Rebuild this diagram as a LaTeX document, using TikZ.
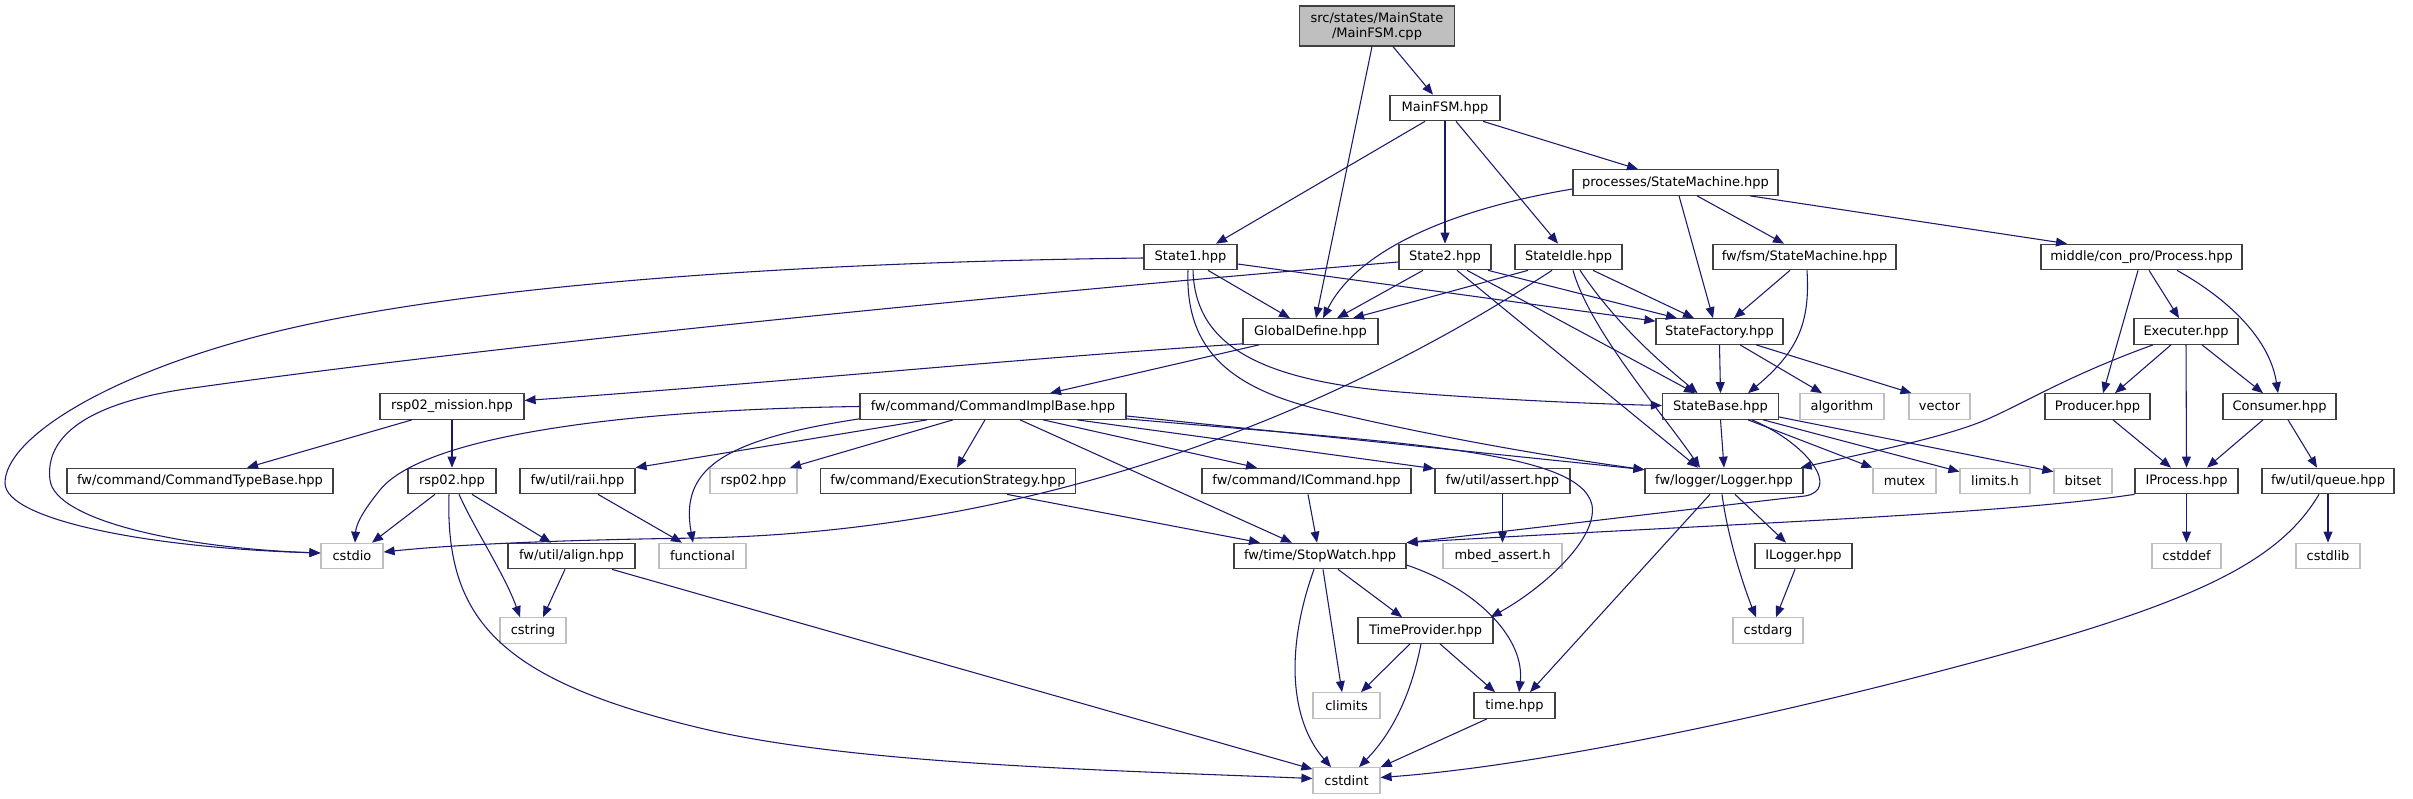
\documentclass[tikz,border=0pt]{standalone}
\usepackage{fontspec}
\setmainfont{DejaVu Sans}
\usetikzlibrary{arrows.meta,calc}
\newdimen\upx \upx=0.75pt
\definecolor{edgec}{HTML}{191970}
\definecolor{boxc}{HTML}{404040}
\definecolor{grayc}{HTML}{BFBFBF}
\begin{document}
\begin{tikzpicture}[x=0.75pt,y=-0.75pt,
  font=\fontsize{9.75pt}{11.25pt}\selectfont,
  hb/.style={draw=boxc,fill=white,line width=0.9pt,minimum height=25.5\upx,inner sep=0pt,text=black},
  gb/.style={hb,draw=grayc},
  dep/.style={draw=edgec,line width=0.8pt,-{Triangle[length=8.25pt,width=6.6pt]}}]
\fill[white] (0,0) rectangle (2413,799);
\useasboundingbox (0,0) rectangle (2413,799);
% nodes
\node[hb,minimum width=155\upx,minimum height=40\upx,fill=grayc,align=center] (root) at (1377,26) {src/states/MainState\\/MainFSM.cpp};
\node[hb,minimum width=110\upx] (mainfsm) at (1445,108) {MainFSM.hpp};
\node[hb,minimum width=205\upx] (procsm) at (1675.5,182.5) {processes/StateMachine.hpp};
\node[hb,minimum width=93\upx] (state1) at (1190.5,257) {State1.hpp};
\node[hb,minimum width=92\upx] (state2) at (1445,257) {State2.hpp};
\node[hb,minimum width=107\upx] (stateidle) at (1568.5,257) {StateIdle.hpp};
\node[hb,minimum width=183\upx] (fsmsm) at (1804.5,257) {fw/fsm/StateMachine.hpp};
\node[hb,minimum width=201\upx] (process) at (2141.5,257) {middle/con\_pro/Process.hpp};
\node[hb,minimum width=135\upx] (globaldef) at (1310.5,331.5) {GlobalDefine.hpp};
\node[hb,minimum width=127\upx] (statefac) at (1719.5,331.5) {StateFactory.hpp};
\node[hb,minimum width=104\upx] (executer) at (2186,331.5) {Executer.hpp};
\node[hb,minimum width=144\upx] (rsp02m) at (452,406.5) {rsp02\_mission.hpp};
\node[hb,minimum width=266\upx] (cmdimpl) at (993,406.5) {fw/command/CommandImplBase.hpp};
\node[hb,minimum width=116\upx] (statebase) at (1720.5,406.5) {StateBase.hpp};
\node[gb,minimum width=84\upx] (algorithm) at (1842,406.5) {algorithm};
\node[gb,minimum width=61\upx] (vector) at (1939.5,406.5) {vector};
\node[hb,minimum width=105\upx] (producer) at (2097.5,406.5) {Producer.hpp};
\node[hb,minimum width=113\upx] (consumer) at (2279.5,406.5) {Consumer.hpp};
\node[hb,minimum width=266\upx] (cmdtype) at (200,481) {fw/command/CommandTypeBase.hpp};
\node[hb,minimum width=88\upx] (rsp02) at (452,481) {rsp02.hpp};
\node[hb,minimum width=115\upx] (raii) at (577.5,481) {fw/util/raii.hpp};
\node[gb,minimum width=87\upx] (rsp02g) at (753.5,481) {rsp02.hpp};
\node[hb,minimum width=255\upx] (execstrat) at (948,481) {fw/command/ExecutionStrategy.hpp};
\node[hb,minimum width=209\upx] (icommand) at (1306.5,481) {fw/command/ICommand.hpp};
\node[hb,minimum width=135\upx] (assert) at (1502.5,481) {fw/util/assert.hpp};
\node[hb,minimum width=158\upx] (logger) at (1724,481) {fw/logger/Logger.hpp};
\node[gb,minimum width=63\upx] (mutex) at (1904.5,481) {mutex};
\node[gb,minimum width=70\upx] (limits) at (1995,481) {limits.h};
\node[gb,minimum width=58\upx] (bitset) at (2083,481) {bitset};
\node[hb,minimum width=103\upx] (iprocess) at (2186.5,481) {IProcess.hpp};
\node[hb,minimum width=132\upx] (queue) at (2328,481) {fw/util/queue.hpp};
\node[gb,minimum width=62\upx] (cstdio) at (352,556) {cstdio};
\node[hb,minimum width=127\upx] (align) at (571.5,556) {fw/util/align.hpp};
\node[gb,minimum width=87\upx] (functional) at (702.5,556) {functional};
\node[hb,minimum width=172\upx] (stopwatch) at (1320,556) {fw/time/StopWatch.hpp};
\node[gb,minimum width=119\upx] (mbed) at (1502.5,556) {mbed\_assert.h};
\node[hb,minimum width=97\upx] (ilogger) at (1803.5,556) {ILogger.hpp};
\node[gb,minimum width=69\upx] (cstddef) at (2186.5,556) {cstddef};
\node[gb,minimum width=64\upx] (cstdlib) at (2328,556) {cstdlib};
\node[gb,minimum width=66\upx] (cstring) at (533,630.5) {cstring};
\node[hb,minimum width=135\upx] (timeprov) at (1425.5,630.5) {TimeProvider.hpp};
\node[gb,minimum width=70\upx] (cstdarg) at (1768,630.5) {cstdarg};
\node[gb,minimum width=67\upx] (climits) at (1346.5,705.5) {climits};
\node[hb,minimum width=81\upx] (timehpp) at (1514.5,705.5) {time.hpp};
\node[gb,minimum width=67\upx] (cstdint) at (1346.5,780.5) {cstdint};
% edges
\draw[dep] ($(root.south)+(16,0)$) -- ($(mainfsm.north)+(-12,0)$);
\draw[dep] ($(root.south)+(-5,0)$) -- ($(globaldef.north)+(5.5,0)$);
\draw[dep] ($(mainfsm.south)+(-20,0)$) -- ($(state1.north)+(25.5,0)$);
\draw[dep] (mainfsm.south) -- (state2.north);
\draw[dep] ($(mainfsm.south)+(11,0)$) -- ($(stateidle.north)+(-10.5,0)$);
\draw[dep] ($(mainfsm.south)+(38,0)$) -- ($(procsm.north)+(-37.5,0)$);
\draw[dep] ($(procsm.west)+(0,6.5)$) .. controls (1453,209) and (1358,249) .. ($(globaldef.north)+(12.5,0)$);
\draw[dep] ($(procsm.south)+(3.5,0)$) -- ($(statefac.north)+(-6.5,0)$);
\draw[dep] ($(procsm.south)+(21.5,0)$) -- ($(fsmsm.north)+(-20.5,0)$);
\draw[dep] ($(procsm.south)+(74.5,0)$) -- ($(process.north)+(-74.5,0)$);
\draw[dep] ($(state1.west)+(0,1)$) .. controls (800,262) and (450,285) .. (255,337) .. controls (100,378) and (5,440) .. (5,483) .. controls (5,520) and (150,548) .. ($(cstdio.west)+(0,-3)$);
\draw[dep] ($(state2.west)+(0,5)$) .. controls (1000,295) and (500,345) .. (200,387) .. controls (80,402) and (45,440) .. (50,480) .. controls (55,520) and (180,548) .. ($(cstdio.west)+(0,-3)$);
\draw[dep] ($(state1.south)+(17.5,0)$) -- ($(globaldef.north)+(-20.5,0)$);
\draw[dep] ($(state1.east)+(0,7)$) -- ($(statefac.north west)+(0,3)$);
\draw[dep] ($(state1.south)+(2.5,0)$) .. controls (1195,340) and (1250,380) .. (1400,392) .. controls (1500,400) and (1600,404) .. ($(statebase.west)+(0,-1)$);
\draw[dep] ($(state1.south)+(-2.5,0)$) .. controls (1185,350) and (1230,390) .. (1330,412) .. controls (1450,440) and (1560,458) .. ($(logger.north west)+(0,2)$);
\draw[dep] ($(state2.south)+(-22,0)$) -- ($(globaldef.north)+(26.5,0)$);
\draw[dep] ($(state2.south)+(43,0)$) -- ($(statefac.north)+(-42.5,0)$);
\draw[dep] ($(state2.south)+(22,0)$) -- ($(statebase.north)+(-25.5,0)$);
\draw[dep] ($(state2.south)+(12,0)$) -- ($(logger.north)+(-26,0)$);
\draw[dep] ($(stateidle.south)+(-40.5,0)$) -- ($(globaldef.north)+(42.5,0)$);
\draw[dep] ($(stateidle.south)+(24.5,0)$) -- ($(statefac.north)+(-25.5,0)$);
\draw[dep] ($(stateidle.south)+(11.5,0)$) .. controls (1620,330) and (1670,370) .. ($(statebase.north)+(-23,0)$);
\draw[dep] ($(stateidle.south)+(4.5,0)$) .. controls (1590,330) and (1660,410) .. ($(logger.north)+(-24,0)$);
\draw[dep] ($(stateidle.south)+(-16.5,0)$) .. controls (1400,370) and (1100,530) .. (700,538) .. controls (550,540) and (450,545) .. ($(cstdio.east)+(0,-4)$);
\draw[dep] ($(fsmsm.south)+(-14.5,0)$) -- ($(statefac.north)+(14.5,0)$);
\draw[dep] ($(fsmsm.south)+(2.5,0)$) .. controls (1810,320) and (1800,350) .. ($(statebase.north)+(27.5,0)$);
\draw[dep] ($(process.south)+(-3.5,0)$) -- ($(producer.north)+(5.5,0)$);
\draw[dep] ($(process.south)+(7.5,0)$) -- ($(executer.north)+(-7,0)$);
\draw[dep] ($(process.south)+(35.5,0)$) .. controls (2230,300) and (2270,340) .. ($(consumer.north)+(-1.5,0)$);
\draw[dep] ($(globaldef.south west)+(0,-1)$) .. controls (1000,360) and (750,385) .. ($(rsp02m.east)+(0,-6)$);
\draw[dep] ($(globaldef.south)+(-51.5,0)$) -- ($(cmdimpl.north)+(57,0)$);
\draw[dep] (statefac.south) -- (statebase.north);
\draw[dep] ($(statefac.south)+(20.5,0)$) -- ($(algorithm.north)+(-20,0)$);
\draw[dep] ($(statefac.south)+(36.5,0)$) -- ($(vector.north)+(-28,0)$);
\draw[dep] ($(executer.south)+(-33,0)$) .. controls (2070,375) and (2030,400) .. (1990,418) .. controls (1950,436) and (1880,450) .. ($(logger.north east)+(-3,0)$);
\draw[dep] ($(executer.south)+(-15,0)$) -- ($(producer.north)+(17.5,0)$);
\draw[dep] (executer.south) -- (iprocess.north);
\draw[dep] ($(executer.south)+(16,0)$) -- ($(consumer.north)+(-16.5,0)$);
\draw[dep] ($(rsp02m.south)+(-40,0)$) -- ($(cmdtype.north)+(47,0)$);
\draw[dep] (rsp02m.south) -- (rsp02.north);
\draw[dep] (cmdimpl.west) .. controls (600,410) and (420,440) .. (380,490) .. controls (362,512) and (356,525) .. ($(cstdio.north)+(3,0)$);
\draw[dep] ($(cmdimpl.south)+(-66,0)$) -- (raii.north east);
\draw[dep] ($(cmdimpl.south west)+(0,-1)$) .. controls (720,440) and (680,470) .. ($(functional.north)+(-9.5,0)$);
\draw[dep] ($(cmdimpl.south)+(-40,0)$) -- ($(rsp02g.north)+(36.5,0)$);
\draw[dep] ($(cmdimpl.south)+(-8,0)$) -- ($(execstrat.north)+(9,0)$);
\draw[dep] ($(cmdimpl.south)+(27,0)$) -- ($(stopwatch.north)+(-28,0)$);
\draw[dep] ($(cmdimpl.south)+(50,0)$) -- ($(icommand.north)+(-49.5,0)$);
\draw[dep] ($(cmdimpl.south)+(84,0)$) -- ($(assert.north west)+(0,1)$);
\draw[dep] ($(cmdimpl.east)+(0,9.5)$) -- ($(logger.north west)+(0,2)$);
\draw[dep] ($(cmdimpl.south east)+(0,-1)$) .. controls (1400,443) and (1580,450) .. (1592,505) .. controls (1598,540) and (1540,590) .. ($(timeprov.north east)+(-3,0)$);
\draw[dep] (statebase.south) -- (logger.north);
\draw[dep] ($(statebase.south)+(31.5,0)$) .. controls (1810,445) and (1840,490) .. (1805,496) .. controls (1700,508) and (1500,532) .. (stopwatch.north east);
\draw[dep] ($(statebase.south)+(27.5,0)$) -- (mutex.north west);
\draw[dep] ($(statebase.south east)+(-16,0)$) -- ($(limits.north west)+(0,4)$);
\draw[dep] ($(statebase.east)+(0,10.5)$) -- ($(bitset.north west)+(0,4)$);
\draw[dep] (iprocess.south west) .. controls (2000,515) and (1700,525) .. (stopwatch.north east);
\draw[dep] ($(rsp02.south)+(-17,0)$) -- ($(cstdio.north)+(20,0)$);
\draw[dep] ($(rsp02.south)+(20,0)$) -- ($(align.north)+(-20.5,0)$);
\draw[dep] ($(rsp02.south)+(7,0)$) .. controls (475,530) and (505,575) .. ($(cstring.north)+(-13,0)$);
\draw[dep] ($(rsp02.south)+(-3,0)$) .. controls (445,620) and (500,680) .. (700,728) .. controls (850,764) and (1100,770) .. ($(cstdint.west)+(0,-2)$);
\draw[dep] ($(raii.south)+(20.5,0)$) -- ($(functional.north)+(-20.5,0)$);
\draw[dep] ($(align.south)+(-6.5,0)$) -- ($(cstring.north)+(10,0)$);
\draw[dep] ($(align.south)+(40.5,0)$) -- ($(cstdint.north west)+(0,2)$);
\draw[dep] ($(execstrat.south)+(59,0)$) -- ($(stopwatch.north)+(-60,0)$);
\draw[dep] ($(icommand.south)+(1.5,0)$) -- ($(stopwatch.north)+(-3,0)$);
\draw[dep] (assert.south) -- (mbed.north);
\draw[dep] ($(logger.south)+(-14,0)$) -- ($(timehpp.north)+(15.5,0)$);
\draw[dep] ($(logger.south)+(-2,0)$) .. controls (1728,540) and (1745,590) .. ($(cstdarg.north)+(-12,0)$);
\draw[dep] ($(logger.south)+(11,0)$) -- ($(ilogger.north)+(-17.5,0)$);
\draw[dep] ($(ilogger.south)+(-8.5,0)$) -- ($(cstdarg.north)+(8,0)$);
\draw[dep] ($(producer.south)+(15.5,0)$) -- ($(iprocess.north)+(-15.5,0)$);
\draw[dep] ($(consumer.south)+(-16.5,0)$) -- ($(iprocess.north)+(20.5,0)$);
\draw[dep] ($(consumer.south)+(8.5,0)$) -- ($(queue.north)+(-11,0)$);
\draw[dep] (iprocess.south) -- (cstddef.north);
\draw[dep] (queue.south) -- (cstdlib.north);
\draw[dep] ($(queue.south)+(-9,0)$) .. controls (2280,560) and (2200,600) .. (2000,655) .. controls (1800,710) and (1550,765) .. ($(cstdint.east)+(0,-3)$);
\draw[dep] ($(stopwatch.south)+(18,0)$) -- ($(timeprov.north)+(-23.5,0)$);
\draw[dep] ($(stopwatch.south)+(3,0)$) -- ($(climits.north)+(-4.5,0)$);
\draw[dep] ($(stopwatch.south)+(-6,0)$) .. controls (1285,650) and (1290,720) .. ($(cstdint.north)+(-15.5,0)$);
\draw[dep] ($(stopwatch.east)+(0,9)$) .. controls (1480,590) and (1525,640) .. ($(timehpp.north)+(4.5,0)$);
\draw[dep] ($(timeprov.south)+(-15.5,0)$) -- ($(climits.north)+(14.5,0)$);
\draw[dep] ($(timeprov.south)+(-4.5,0)$) .. controls (1412,690) and (1395,730) .. ($(cstdint.north)+(12.5,0)$);
\draw[dep] ($(timeprov.south)+(14.5,0)$) -- ($(timehpp.north)+(-19.5,0)$);
\draw[dep] ($(timehpp.south)+(-27.5,0)$) -- (cstdint.north east);
\end{tikzpicture}
\end{document}
